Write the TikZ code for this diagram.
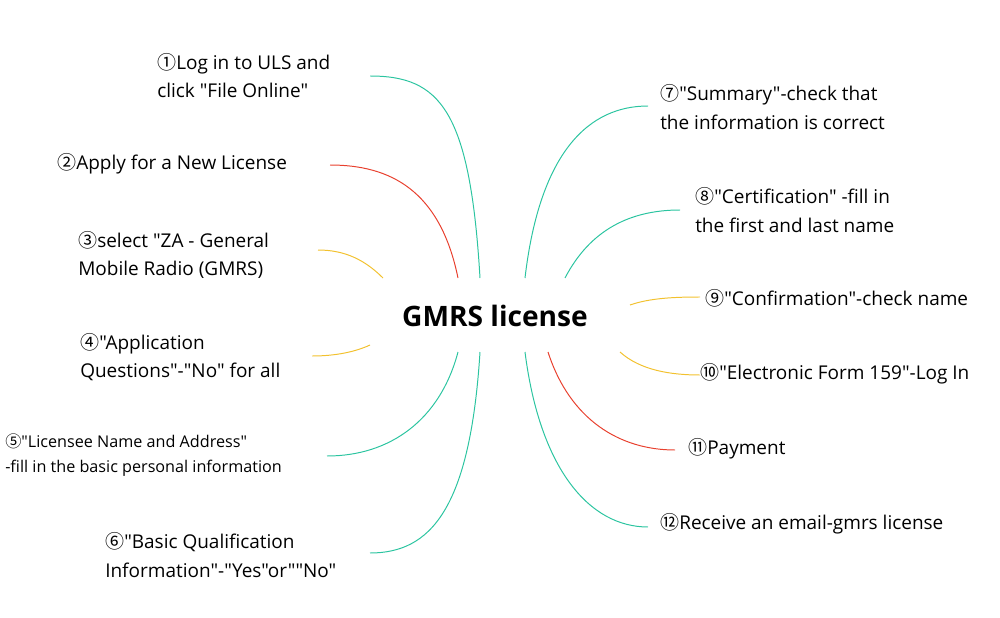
\documentclass[tikz,border=0pt]{standalone}
\usepackage{fontspec}
\setmainfont{Open Sans}[Ligatures=TeXOff]
\newfontfamily\circfont{Noto Sans CJK SC}
\usetikzlibrary{positioning}
\definecolor{tealc}{HTML}{2BC4A0}
\definecolor{redc}{HTML}{E8402E}
\definecolor{yelc}{HTML}{F2C12E}
\tikzset{
  item/.style={anchor=west, align=left, font=\fontsize{13.5}{20}\selectfont, inner sep=0pt},
  small/.style={item, font=\fontsize{11.5}{18}\selectfont},
  branch/.style={line width=0.7pt}
}
\newcommand{\cn}[1]{{\circfont #1}}
\begin{document}
\begin{tikzpicture}[x=0.025cm,y=-0.025cm]
        \useasboundingbox (0,0) rectangle (1000,618);
        \node[font=\fontsize{20}{24}\selectfont\bfseries] (title) at (495,316) {GMRS license};
        % left side
        \node[item] (s1) at (157,76) {\cn{①}Log in to ULS and\\click "File Online"};
        \node[item] (s2) at (57,164) {\cn{②}Apply for a New License};
        \node[item] (s3) at (78,255) {\cn{③}select "ZA - General\\Mobile Radio (GMRS)};
        \node[item] (s4) at (80,357) {\cn{④}"Application\\Questions"-"No" for all};
        \node[small] (s5) at (5,455) {\cn{⑤}"Licensee Name and Address"\\-fill in the basic personal information};
        \node[item] (s6) at (105,555) {\cn{⑥}"Basic Qualification\\Information"-"Yes"or""No"};
        % right side
        \node[item] (s7) at (660,107) {\cn{⑦}"Summary"-check that\\the information is correct};
        \node[item] (s8) at (695,210) {\cn{⑧}"Certification" -fill in\\the first and last name};
        \node[item] (s9) at (705,298) {\cn{⑨}"Confirmation"-check name};
        \node[item] (s10) at (700,374) {\cn{⑩}"Electronic Form 159"-Log In};
        \node[item] (s11) at (688,449) {\cn{⑪}Payment};
        \node[item] (s12) at (660,524) {\cn{⑫}Receive an email-gmrs license};
        % connectors
        \coordinate (e1) at (370,76);  \coordinate (e2) at (330,165);
        \coordinate (e3) at (318,250); \coordinate (e4) at (312,356);
        \coordinate (e5) at (327,456); \coordinate (e6) at (370,553);
        \coordinate (e7) at (648,106); \coordinate (e8) at (680,210);
        \coordinate (e9) at (700,297); \coordinate (e10) at (700,375);
        \coordinate (e11) at (675,450); \coordinate (e12) at (648,527);
        \draw[branch,tealc] (480,278) .. controls (470,110) and (440,76) .. (e1);
        \draw[branch,redc] (458,278) .. controls (440,190) and (390,165) .. (e2);
        \draw[branch,yelc] (383,278) .. controls (365,260) and (345,250) .. (e3);
        \draw[branch,yelc] (370,345) .. controls (355,352) and (335,356) .. (e4);
        \draw[branch,tealc] (458,352) .. controls (440,420) and (390,456) .. (e5);
        \draw[branch,tealc] (480,352) .. controls (470,510) and (430,553) .. (e6);
        \draw[branch,tealc] (525,278) .. controls (540,150) and (590,106) .. (e7);
        \draw[branch,tealc] (565,278) .. controls (590,230) and (630,210) .. (e8);
        \draw[branch,yelc] (630,305) .. controls (650,298) and (675,297) .. (e9);
        \draw[branch,yelc] (620,352) .. controls (640,370) and (670,375) .. (e10);
        \draw[branch,redc] (548,352) .. controls (570,420) and (620,450) .. (e11);
        \draw[branch,tealc] (525,352) .. controls (540,470) and (590,527) .. (e12);
\end{tikzpicture}
\end{document}
